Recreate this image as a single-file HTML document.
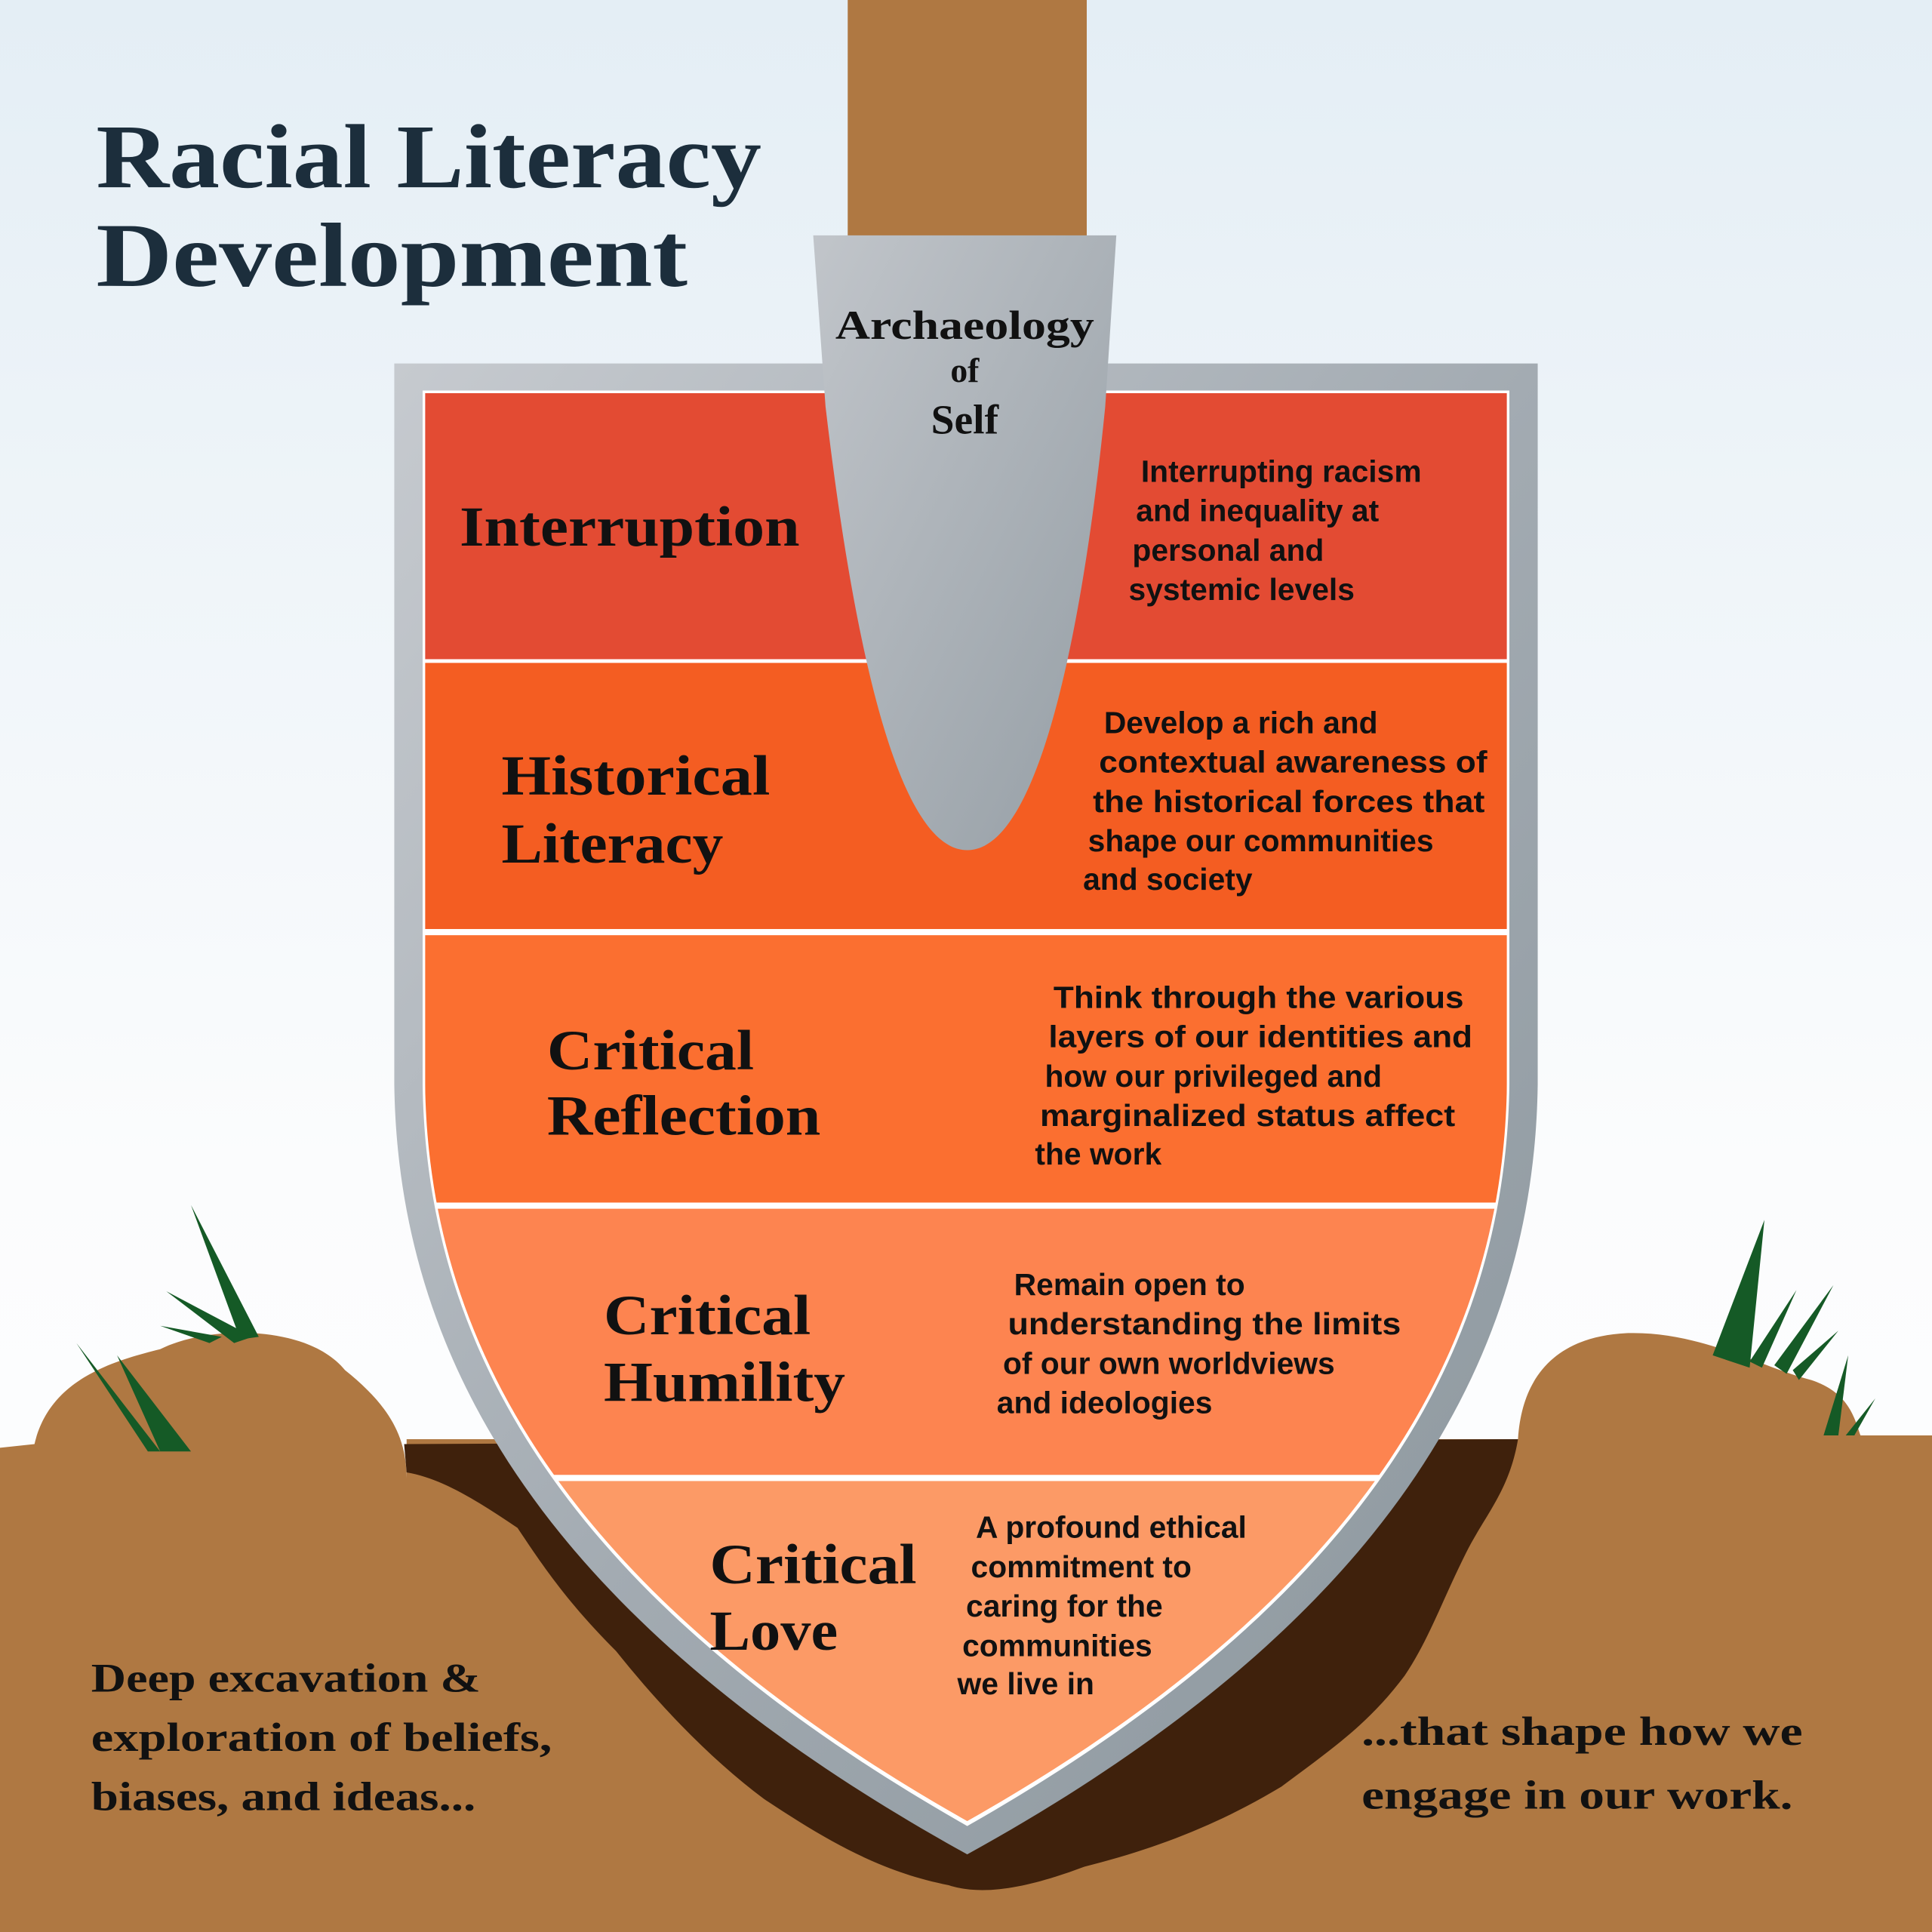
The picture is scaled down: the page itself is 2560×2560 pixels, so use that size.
<!DOCTYPE html>
<html><head><meta charset="utf-8"><style>
html,body{margin:0;padding:0;width:2560px;height:2560px;overflow:hidden}
svg{display:block}
.lab{font-family:"Liberation Serif",serif;font-weight:bold;fill:#111;font-size:46px}
.d{font-family:"Liberation Sans",sans-serif;font-weight:bold;fill:#111;font-size:25px}
.b{font-family:"Liberation Serif",serif;font-weight:bold;fill:#111;font-size:33px}
</style></head><body>
<svg width="2560" height="2560" viewBox="0 0 1568 1568" xmlns="http://www.w3.org/2000/svg">
<defs>
<linearGradient id="sky" x1="0" y1="0" x2="0" y2="1"><stop offset="0" stop-color="#e4eef5"/><stop offset="0.6" stop-color="#fbfcfd"/><stop offset="1" stop-color="#ffffff"/></linearGradient>
<linearGradient id="steel" x1="0" y1="0" x2="1" y2="1"><stop offset="0" stop-color="#c6cacf"/><stop offset="0.5" stop-color="#a3abb2"/><stop offset="1" stop-color="#8a959c"/></linearGradient>
<linearGradient id="blade" x1="0" y1="0" x2="1" y2="1"><stop offset="0" stop-color="#c1c5ca"/><stop offset="1" stop-color="#959ea5"/></linearGradient>
<clipPath id="inner"><path d="M345,319 L1223,319 L1223,880 C1220,1100 1100,1300 785,1478 C470,1300 348,1100 345,880 Z"/></clipPath>
</defs>
<rect width="1568" height="1568" fill="url(#sky)"/>
<!-- ground -->
<path d="M0,1175 L28,1172 C40,1120 90,1105 130,1095 C170,1075 250,1075 280,1112 C315,1140 330,1165 330,1200 L330,1168 L1232,1168 C1235,1120 1260,1085 1320,1082 C1380,1080 1430,1110 1470,1120 C1500,1130 1505,1150 1510,1165 L1568,1165 L1568,1568 L0,1568 Z" fill="#af7842"/>
<path d="M328,1172 L1232,1168 C1225,1210 1205,1230 1190,1260 C1170,1300 1160,1330 1140,1360 C1110,1400 1080,1420 1040,1450 C990,1480 940,1500 880,1515 C840,1530 800,1540 770,1530 C720,1520 680,1500 620,1460 C580,1430 540,1390 500,1340 C460,1300 440,1270 420,1240 C390,1220 360,1200 330,1195 Z" fill="#3f210c"/>
<!-- grass -->
<g fill="#155a26">
<path d="M155,978 L210,1085 L195,1087 Z"/>
<path d="M135,1048 L205,1085 L190,1090 Z"/>
<path d="M130,1076 L180,1085 L170,1090 Z"/>
<path d="M62,1090 L130,1178 L120,1178 Z"/>
<path d="M95,1100 L155,1178 L130,1178 Z"/>
<path d="M1432,990 L1420,1110 L1390,1100 Z"/>
<path d="M1458,1047 L1430,1110 L1420,1105 Z"/>
<path d="M1488,1043 L1450,1115 L1440,1108 Z"/>
<path d="M1492,1080 L1460,1120 L1455,1112 Z"/>
<path d="M1500,1100 L1492,1165 L1480,1165 Z"/>
<path d="M1522,1135 L1505,1165 L1498,1165 Z"/>
</g>
<!-- handle -->
<rect x="688" y="0" width="194" height="192" fill="#af7842"/>
<!-- shovel outer -->
<path d="M320,295 L1248,295 L1248,880 C1245,1110 1120,1320 785,1505 C450,1320 323,1110 320,880 Z" fill="url(#steel)"/>
<path d="M343,317 L1225,317 L1225,880 C1222,1102 1102,1302 785,1482 C468,1302 346,1102 343,880 Z" fill="#fff"/>
<g clip-path="url(#inner)">
<rect x="300" y="300" width="1000" height="235" fill="#e34b33"/>
<rect x="300" y="538" width="1000" height="216" fill="#f45d22"/>
<rect x="300" y="759" width="1000" height="217" fill="#fb6f30"/>
<rect x="300" y="981" width="1000" height="216" fill="#fd8450"/>
<rect x="300" y="1202" width="1000" height="300" fill="#fc9a66"/>
</g>
<!-- blade -->
<path d="M660,191 L906,191 L897,330 C880,500 845,690 785,690 C725,690 690,500 670,330 Z" fill="url(#blade)"/>
<!-- title -->
<text x="78" y="152" font-family="Liberation Serif,serif" font-weight="bold" font-size="74" fill="#1c2e3c" textLength="540" lengthAdjust="spacingAndGlyphs">Racial Literacy</text>
<text x="78" y="232" font-family="Liberation Serif,serif" font-weight="bold" font-size="74" fill="#1c2e3c" textLength="480" lengthAdjust="spacingAndGlyphs">Development</text>
<g font-family="Liberation Serif,serif" font-weight="bold" fill="#111" text-anchor="middle">
<text x="783" y="275" font-size="33" textLength="210" lengthAdjust="spacingAndGlyphs">Archaeology</text>
<text x="783" y="310" font-size="28">of</text>
<text x="783" y="352" font-size="34">Self</text>
</g>
<text class="lab" x="373" y="443" textLength="276" lengthAdjust="spacingAndGlyphs">Interruption</text>
<text class="lab" x="407" y="645" textLength="218" lengthAdjust="spacingAndGlyphs">Historical</text>
<text class="lab" x="407" y="700" textLength="180" lengthAdjust="spacingAndGlyphs">Literacy</text>
<text class="lab" x="444" y="868" textLength="168" lengthAdjust="spacingAndGlyphs">Critical</text>
<text class="lab" x="444" y="921" textLength="222" lengthAdjust="spacingAndGlyphs">Reflection</text>
<text class="lab" x="490" y="1083" textLength="168" lengthAdjust="spacingAndGlyphs">Critical</text>
<text class="lab" x="490" y="1137" textLength="196" lengthAdjust="spacingAndGlyphs">Humility</text>
<text class="lab" x="576" y="1285" textLength="168" lengthAdjust="spacingAndGlyphs">Critical</text>
<text class="lab" x="576" y="1339" textLength="104" lengthAdjust="spacingAndGlyphs">Love</text>
<g class="dd">
<text class="d" x="926" y="391">Interrupting racism</text>
<text class="d" x="922" y="423">and inequality at</text>
<text class="d" x="919" y="455">personal and</text>
<text class="d" x="916" y="487">systemic levels</text>
<text class="d" x="896" y="595">Develop a rich and</text>
<text class="d" x="892" y="627" textLength="315" lengthAdjust="spacingAndGlyphs">contextual awareness of</text>
<text class="d" x="887" y="659" textLength="318" lengthAdjust="spacingAndGlyphs">the historical forces that</text>
<text class="d" x="883" y="691">shape our communities</text>
<text class="d" x="879" y="722">and society</text>
<text class="d" x="855" y="818" textLength="333" lengthAdjust="spacingAndGlyphs">Think through the various</text>
<text class="d" x="851" y="850" textLength="344" lengthAdjust="spacingAndGlyphs">layers of our identities and</text>
<text class="d" x="848" y="882">how our privileged and</text>
<text class="d" x="844" y="914" textLength="337" lengthAdjust="spacingAndGlyphs">marginalized status affect</text>
<text class="d" x="840" y="945">the work</text>
<text class="d" x="823" y="1051">Remain open to</text>
<text class="d" x="818" y="1083" textLength="319" lengthAdjust="spacingAndGlyphs">understanding the limits</text>
<text class="d" x="814" y="1115">of our own worldviews</text>
<text class="d" x="809" y="1147">and ideologies</text>
<text class="d" x="792" y="1248">A profound ethical</text>
<text class="d" x="788" y="1280">commitment to</text>
<text class="d" x="784" y="1312">caring for the</text>
<text class="d" x="781" y="1344">communities</text>
<text class="d" x="777" y="1375">we live in</text>
</g>
<text class="b" x="74" y="1373" textLength="316" lengthAdjust="spacingAndGlyphs">Deep excavation &amp;</text>
<text class="b" x="74" y="1421" textLength="374" lengthAdjust="spacingAndGlyphs">exploration of beliefs,</text>
<text class="b" x="74" y="1469" textLength="312" lengthAdjust="spacingAndGlyphs">biases, and ideas...</text>
<text class="b" x="1105" y="1416" textLength="358" lengthAdjust="spacingAndGlyphs">...that shape how we</text>
<text class="b" x="1105" y="1468" textLength="350" lengthAdjust="spacingAndGlyphs">engage in our work.</text>
</svg>
</body></html>
